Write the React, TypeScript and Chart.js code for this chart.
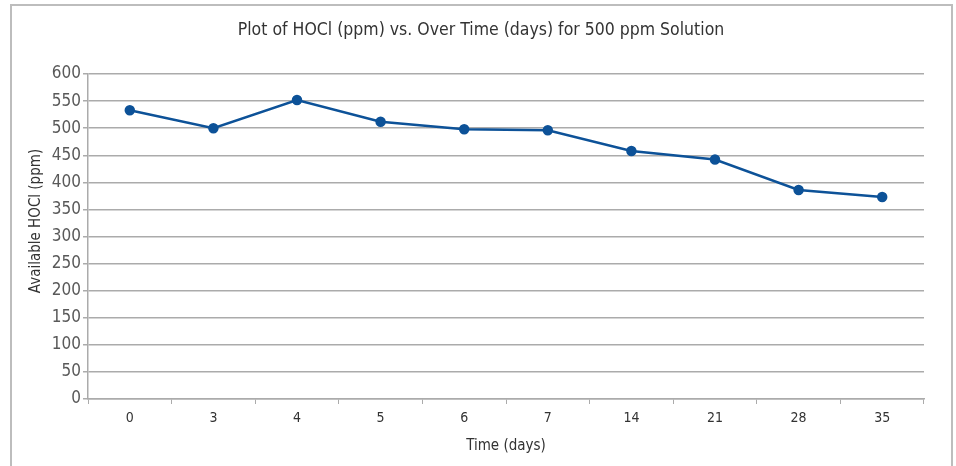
import React, { useEffect, useRef } from "react";
import { Chart, registerables } from "chart.js";

Chart.register(...registerables);

const categories = ["0", "3", "4", "5", "6", "7", "14", "21", "28", "35"];
const hoclValues = [533, 500, 552, 512, 498, 496, 458, 442, 386, 373];
const yTicks = [0, 50, 100, 150, 200, 250, 300, 350, 400, 450, 500, 550, 600];
const chartTitle = "Plot of HOCl (ppm) vs. Over Time (days) for 500 ppm Solution";
const yTitle = "Available HOCl (ppm)";
const xTitle = "Time (days)";

const FONT = "'Liberation Sans Narrow', 'DejaVu Sans Condensed', 'Roboto', sans-serif";
const LINE = "#0d5298";
const GRID = "#ababab";

const textPlugin = {
  id: "textPlugin",
  afterDraw(chart: any) {
    const ctx = chart.ctx;
    ctx.save();
    ctx.font = `17.5px ${FONT}`;
    ctx.fillStyle = "#333333";
    ctx.textAlign = "center";
    ctx.textBaseline = "middle";
    ctx.fillText(chartTitle, 481, 30);
    ctx.translate(36, 221);
    ctx.rotate(-Math.PI / 2);
    ctx.font = `15px ${FONT}`;
    ctx.fillText(yTitle, 0, 0);
    ctx.restore();
  },
};

export default function App() {
  const ref = useRef<HTMLCanvasElement>(null);
  useEffect(() => {
    if (!ref.current) return;
    const chart = new Chart(ref.current, {
      type: "line",
      data: {
        labels: categories,
        datasets: [
          {
            data: hoclValues,
            borderColor: LINE,
            backgroundColor: LINE,
            borderWidth: 2.5,
            pointRadius: 4,
            pointBackgroundColor: LINE,
            pointBorderColor: LINE,
            tension: 0,
          },
        ],
      },
      options: {
        animation: false,
        responsive: false,
        maintainAspectRatio: false,
        layout: { padding: { left: 0, right: 32, top: 74, bottom: 0 } },
        plugins: {
          legend: { display: false },
          tooltip: { enabled: false },
          title: { display: false },
        },
        scales: {
          x: {
            type: "category",
            offset: true,
            grid: {
              display: true,
              drawOnChartArea: false,
              drawTicks: true,
              tickLength: 5,
              color: GRID,
              offset: true,
            },
            border: { display: true, color: GRID, width: 1.5 },
            ticks: {
              color: "#333333",
              font: { family: FONT, size: 14 },
              padding: 6,
              maxRotation: 0,
            },
            title: {
              display: true,
              text: xTitle,
              color: "#333333",
              font: { family: FONT, size: 15 },
              padding: { top: 8, bottom: 11 },
            },
            afterFit: (s: any) => {
              s.height = 466 - 399;
            },
          },
          y: {
            min: 0,
            max: 600,
            afterBuildTicks: (s: any) => {
              s.ticks = yTicks.map((v) => ({ value: v }));
            },
            grid: {
              color: GRID,
              lineWidth: 1.5,
              drawTicks: true,
              tickLength: 5,
            },
            border: { display: true, color: GRID, width: 1.5 },
            ticks: {
              color: "#595959",
              font: { family: FONT, size: 17 },
              padding: 2,
            },
            afterFit: (s: any) => {
              s.width = 88;
            },
          },
        },
      },
      plugins: [textPlugin],
    });
    return () => chart.destroy();
  }, []);

  return (
    <div
      style={{
        position: "fixed",
        left: 0,
        top: 0,
        width: 956,
        height: 466,
        overflow: "hidden",
        background: "#ffffff",
      }}
    >
      <div
        style={{
          position: "absolute",
          left: 10,
          top: 4,
          width: 943,
          height: 500,
          border: "2px solid #bdbdbd",
          boxSizing: "border-box",
        }}
      />
      <canvas
        ref={ref}
        width={956}
        height={466}
        style={{ position: "absolute", left: 0, top: 0, width: 956, height: 466 }}
      />
    </div>
  );
}
